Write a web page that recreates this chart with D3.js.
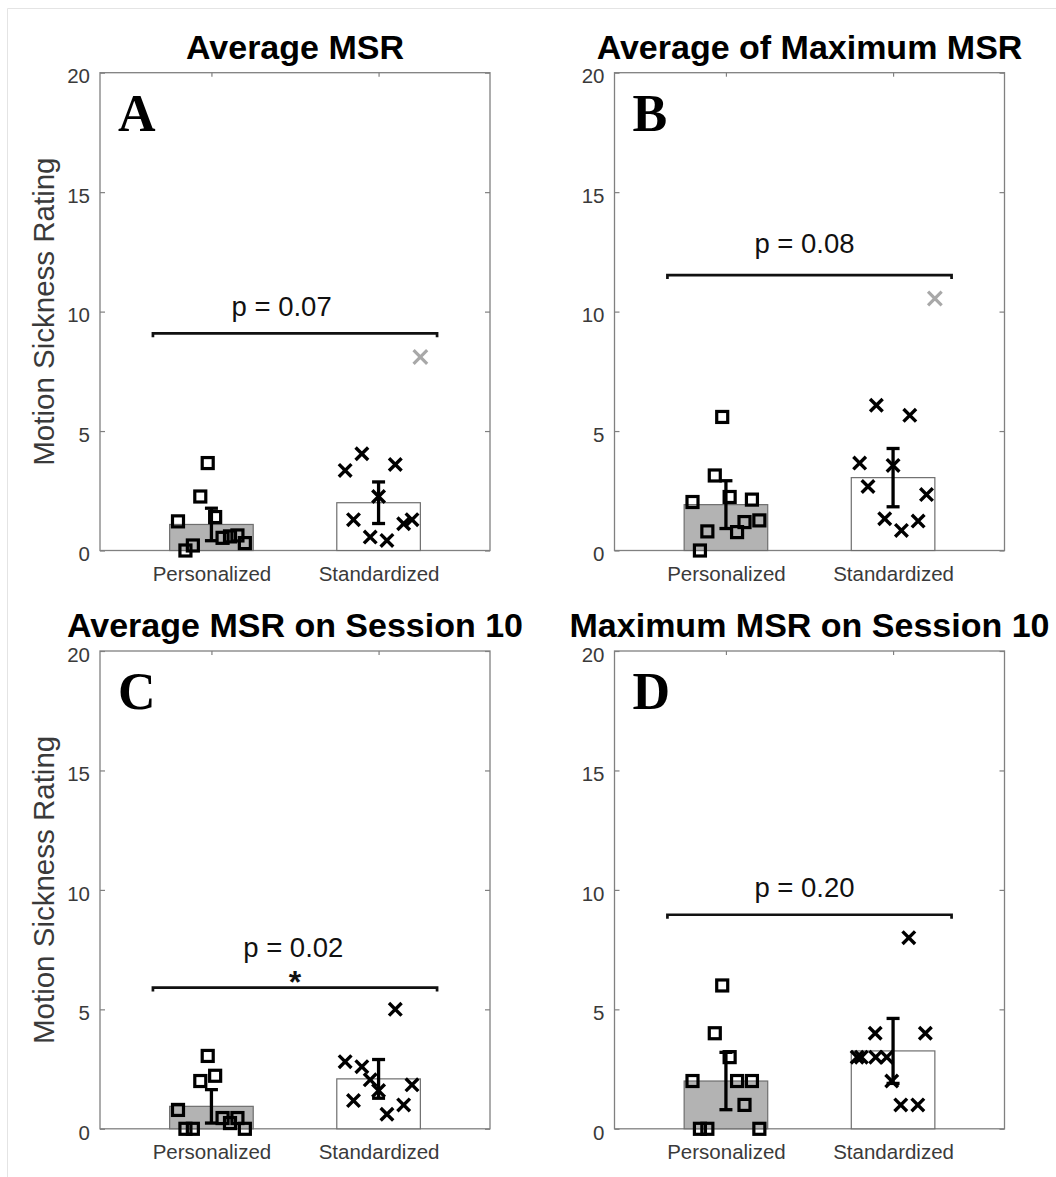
<!DOCTYPE html>
<html><head><meta charset="utf-8">
<script src="https://cdn.jsdelivr.net/npm/d3@7"></script>
<style>body{margin:0;background:#fff} svg{display:block}</style>
</head><body><div id="chart"></div>
<script>
// ---------- data ----------
const categories = ["Personalized", "Standardized"];
const yTicks = [0, 5, 10, 15, 20];
const titles = ["Average MSR", "Average of Maximum MSR", "Average MSR on Session 10", "Maximum MSR on Session 10"];
const letters = ["A", "B", "C", "D"];
const pLabels = ["p = 0.07", "p = 0.08", "p = 0.02", "p = 0.20"];
const pStars = ["", "", "*", ""];
const bracketValue = [9.09, 11.53, 5.91, 8.96];
const pTextValue = [9.81, 12.44, 7.21, 9.69];
const pTextCat = [1.42, 1.47, 1.49, 1.47];
const starValue = [null, null, 6.45, null];

const barMeans = [[1.09, 2.0], [1.92, 3.05], [0.94, 2.09], [2.0, 3.26]];
const barErrors = [[0.68, 0.87], [1.0, 1.22], [0.7, 0.81], [1.2, 1.36]];

const aPersonalized = [1.22, 0.0, 0.21, 2.26, 3.66, 1.40, 0.53, 0.59, 0.63, 0.31];
const aStandardized = [3.35, 1.29, 4.05, 0.56, 2.26, 0.42, 3.6, 1.12, 1.29];
const aOutlier = [8.1];
const bPersonalized = [2.03, 0.0, 0.8, 3.14, 5.59, 2.24, 0.77, 1.19, 2.13, 1.26];
const bStandardized = [3.66, 2.68, 6.08, 1.33, 3.56, 0.84, 5.66, 1.23, 2.34];
const bOutlier = [10.55];
const cPersonalized = [0.79, 0, 0, 2.0, 3.05, 2.22, 0.45, 0.24, 0.45, 0];
const cStandardized = [2.81, 1.18, 2.6, 2.05, 1.6, 0.61, 5.0, 1.0, 1.84];
const cOutlier = [];
const dPersonalized = [2, 0, 0, 4, 6, 3, 2, 1, 2, 0];
const dStandardized = [3, 3, 3, 4, 3, 2, 1, 8, 1, 4];
const dStandardizedOffsets = [-0.215, -0.19, -0.104, -0.107, -0.038, -0.008, 0.046, 0.094, 0.148, 0.193];
const dOutlier = [];

// ---------- table built from the arrays ----------
const linspace = (a, b, n) => n === 1 ? [0] : d3.range(n).map(i => a + (b - a) * i / (n - 1));
const panels = [
  {pers: aPersonalized, std: aStandardized, out: aOutlier},
  {pers: bPersonalized, std: bStandardized, out: bOutlier},
  {pers: cPersonalized, std: cStandardized, out: cOutlier},
  {pers: dPersonalized, std: dStandardized, out: dOutlier, stdOff: dStandardizedOffsets}
];

// ---------- layout ----------
const W = 1056, H = 1177;
const FONT = "'Liberation Sans', Arial, Helvetica, sans-serif";
const svg = d3.select("#chart").append("svg").attr("width", W).attr("height", H);
svg.append("path").attr("d", "M7.5,1177V8.5H1056").attr("fill", "none").attr("stroke", "#e4e4e4").attr("stroke-width", 1);

const panelPos = [[100, 72.7], [614.5, 72.7], [100, 651], [614.5, 651]];
const AW = 390, AH = 477.8;
const AXC = "#808080";

panels.forEach((p, i) => {
  const [L, T] = panelPos[i];
  const g = svg.append("g").attr("transform", `translate(${L},${T})`);
  const x = d3.scaleLinear().domain([1 / 3, 8 / 3]).range([0, AW]);
  const y = d3.scaleLinear().domain([0, 20]).range([AH, 0]);

  // box
  g.append("rect").attr("x", 0).attr("y", 0).attr("width", AW).attr("height", AH)
    .attr("fill", "#fff").attr("stroke", AXC).attr("stroke-width", 1.3);

  // axes
  const left = g.append("g").call(d3.axisLeft(y).tickValues(yTicks).tickSize(-5).tickPadding(10));
  const right = g.append("g").attr("transform", `translate(${AW},0)`).call(d3.axisRight(y).tickValues(yTicks).tickSize(-5).tickFormat(""));
  const top = g.append("g").call(d3.axisTop(x).tickValues([1, 2]).tickSize(-4).tickFormat(""));
  const bottom = g.append("g").attr("transform", `translate(0,${AH})`)
    .call(d3.axisBottom(x).tickValues([1, 2]).tickSize(-4).tickPadding(15.5).tickFormat(d => categories[d - 1]));
  [left, right, top, bottom].forEach(a => {
    a.select(".domain").remove();
    a.selectAll(".tick line").attr("stroke", AXC).attr("stroke-width", 1.2);
    a.selectAll("text").attr("font-family", FONT).attr("font-size", 20.5).attr("fill", "#3a3a3a");
  });
  left.selectAll("text").attr("dy", "0.5em");

  // bars
  const bw = 0.5;
  g.selectAll("rect.bar").data(barMeans[i]).join("rect").attr("class", "bar")
    .attr("x", (d, k) => x(k + 1 - bw / 2)).attr("width", x(bw) - x(0))
    .attr("y", d => y(d)).attr("height", d => y(0) - y(d))
    .attr("fill", (d, k) => k === 0 ? "#b3b3b3" : "#ffffff")
    .attr("stroke", "#6e6e6e").attr("stroke-width", 1.2);

  // personalized squares
  const pOff = linspace(-0.2, 0.2, p.pers.length);
  const sq = 11;
  g.selectAll("rect.sq").data(p.pers).join("rect").attr("class", "sq")
    .attr("x", (d, k) => x(1 + pOff[k]) - sq / 2).attr("y", d => y(d) - sq / 2)
    .attr("width", sq).attr("height", sq)
    .attr("fill", "none").attr("stroke", "#000").attr("stroke-width", 3.2);

  // standardized crosses
  const sOff = p.stdOff || linspace(-0.2, 0.2, p.std.length);
  const h = 6.3;
  const cross = (cx, cy, hh) => `M${cx - hh},${cy - hh}L${cx + hh},${cy + hh}M${cx - hh},${cy + hh}L${cx + hh},${cy - hh}`;
  g.selectAll("path.cr").data(p.std).join("path").attr("class", "cr")
    .attr("d", (d, k) => cross(x(2 + sOff[k]), y(d), h))
    .attr("fill", "none").attr("stroke", "#000").attr("stroke-width", 3.4);
  g.selectAll("path.out").data(p.out).join("path").attr("class", "out")
    .attr("d", d => cross(x(2.25), y(d), 6.8))
    .attr("fill", "none").attr("stroke", "#a8a8a8").attr("stroke-width", 3.2);

  // error bars
  const cap = 6.5;
  barMeans[i].forEach((m, k) => {
    const e = barErrors[i][k];
    const cx = x(k + 1);
    const eg = g.append("g").attr("stroke", "#000").attr("stroke-width", 3.3).attr("fill", "none");
    eg.append("line").attr("x1", cx).attr("x2", cx).attr("y1", y(m - e)).attr("y2", y(m + e));
    eg.append("line").attr("x1", cx - cap).attr("x2", cx + cap).attr("y1", y(m - e)).attr("y2", y(m - e));
    eg.append("line").attr("x1", cx - cap).attr("x2", cx + cap).attr("y1", y(m + e)).attr("y2", y(m + e));
  });

  // significance bracket
  const by = y(bracketValue[i]);
  g.append("path").attr("d", `M${x(0.65)},${by + 4}V${by}H${x(2.35)}V${by + 4}`)
    .attr("fill", "none").attr("stroke", "#111").attr("stroke-width", 2.7);
  g.append("text").attr("x", x(pTextCat[i])).attr("y", y(pTextValue[i]))
    .attr("text-anchor", "middle").attr("font-family", FONT).attr("font-size", 27.5).attr("fill", "#111")
    .text(pLabels[i]);
  if (pStars[i]) {
    g.append("text").attr("x", x(1.5)).attr("y", y(starValue[i])).attr("dy", "0.58em")
      .attr("text-anchor", "middle").attr("font-family", FONT).attr("font-size", 32).attr("font-weight", "bold").attr("fill", "#111")
      .text(pStars[i]);
  }

  // panel letter
  g.append("text").attr("x", 18).attr("y", 58).attr("font-family", "'Liberation Serif', 'Times New Roman', serif")
    .attr("font-weight", "bold").attr("font-size", 52).attr("fill", "#000").text(letters[i]);

  // title
  g.append("text").attr("x", AW / 2).attr("y", -14).attr("text-anchor", "middle")
    .attr("font-family", FONT).attr("font-weight", "bold").attr("font-size", 34).attr("fill", "#000").text(titles[i]);

  // y label
  if (i % 2 === 0) {
    g.append("text").attr("transform", `translate(${54 - L},${AH / 2}) rotate(-90)`).attr("text-anchor", "middle")
      .attr("font-family", FONT).attr("font-size", 29.5).attr("fill", "#3a3a3a").text("Motion Sickness Rating");
  }
});
</script>
</body></html>
